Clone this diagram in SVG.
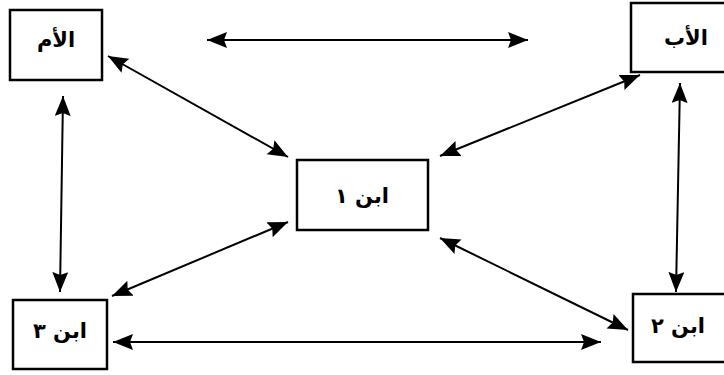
<svg xmlns="http://www.w3.org/2000/svg" width="724" height="375" viewBox="0 0 724 375">
<style>
.box{fill:#fff;stroke:#000;stroke-width:2.5}
.lbl{font-family:"DejaVu Sans",sans-serif;font-weight:bold;font-size:21px;fill:#000;text-anchor:middle}
.c{stroke:#000;stroke-width:2;fill:none;marker-start:url(#ah);marker-end:url(#ah)}
</style>
<defs>
<marker id="ah" markerUnits="userSpaceOnUse" markerWidth="22" markerHeight="18" refX="20" refY="8" orient="auto-start-reverse">
<path d="M0,0 L20,8 L0,16 L3,8 z" fill="#000"/>
</marker>
</defs>
<rect width="724" height="375" fill="#fff"/>
<g id="connectors">
<line class="c" x1="207" y1="40" x2="528" y2="40"/>
<line class="c" x1="108" y1="56" x2="288" y2="157"/>
<line class="c" x1="640" y1="75" x2="440" y2="156"/>
<line class="c" x1="288" y1="222" x2="112" y2="296"/>
<line class="c" x1="440" y1="238" x2="628" y2="330"/>
<line class="c" x1="63" y1="96" x2="60" y2="292"/>
<line class="c" x1="680" y1="83" x2="676" y2="292"/>
<line class="c" x1="113" y1="342" x2="601" y2="342"/>
</g>
<g id="mother"><rect class="box" x="10" y="10" width="92" height="70"/><text class="lbl" x="56" y="47">الأم</text></g>
<g id="father"><rect class="box" x="631" y="3" width="100" height="69"/><text class="lbl" x="686" y="45">الأب</text></g>
<g id="son1"><rect class="box" x="297" y="160" width="131" height="70"/><text class="lbl" x="362" y="203">ابن ١</text></g>
<g id="son3"><rect class="box" x="13" y="300" width="94" height="69"/><text class="lbl" x="60" y="338">ابن ٣</text></g>
<g id="son2"><rect class="box" x="633" y="294" width="100" height="68"/><text class="lbl" x="678" y="333">ابن ٢</text></g>
</svg>
